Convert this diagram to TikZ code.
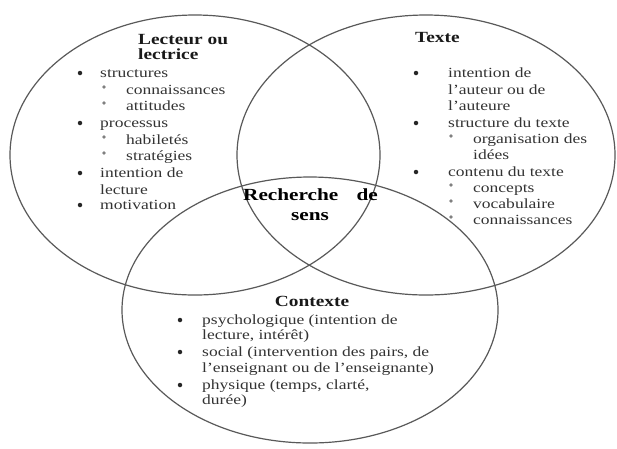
\documentclass[tikz,border=0pt]{standalone}
\usepackage{fontspec}
\setmainfont[FakeStretch=1.25]{Liberation Serif}
\begin{document}
\begin{tikzpicture}[x=1pt,y=-1pt,
  ring/.style={draw=black!65, line width=1.2pt},
  txt/.style={anchor=base west, inner sep=0pt, text=black!80, font=\fontsize{14}{16}\selectfont},
  head/.style={anchor=base west, inner sep=0pt, text=black!90, font=\fontsize{15.5}{17}\selectfont\bfseries},
  centre/.style={anchor=base, inner sep=0pt, text=black!90, font=\fontsize{15.5}{17}\selectfont\bfseries},
  big/.style={inner sep=0pt, text=black, font=\fontsize{17}{19}\selectfont\bfseries},
  dot/.style={circle, fill=black!85, inner sep=0pt, minimum size=4.5pt},
  sub/.style={circle, fill=black!50, inner sep=0pt, minimum size=3.6pt}]
\useasboundingbox (0,0) rectangle (617,448);
\fill[white] (0,0) rectangle (617,448);
% circles
\draw[ring] (195,155) ellipse [x radius=185, y radius=140];
\draw[ring] (426,155) ellipse [x radius=189, y radius=140];
\draw[ring] (310,310) ellipse [x radius=188, y radius=133];

% Lecteur ou lectrice
\node[head] (h1a) at (138,44) {Lecteur ou};
\node[head] (h1b) at (138,59) {lectrice};
\node[dot] (b1) at (80,73) {};
\node[dot] (b2) at (80,123) {};
\node[dot] (b3) at (80,173) {};
\node[dot] (b4) at (80,205) {};
\node[sub] (s1) at (104,87) {};
\node[sub] (s2) at (104,103) {};
\node[sub] (s3) at (104,137) {};
\node[sub] (s4) at (104,153) {};
\node[txt] (l1) at (100,77) {structures};
\node[txt] (l2) at (126,94) {connaissances};
\node[txt] (l3) at (126,110) {attitudes};
\node[txt] (l4) at (100,127) {processus};
\node[txt] (l5) at (126,144) {habiletés};
\node[txt] (l6) at (126,160) {stratégies};
\node[txt] (l7) at (100,177) {intention de};
\node[txt] (l8) at (100,194) {lecture};
\node[txt] (l9) at (100,209) {motivation};

% Texte
\node[head] (h2) at (415,42) {Texte};
\node[dot] (c1) at (416,73) {};
\node[dot] (c2) at (416,123) {};
\node[dot] (c3) at (416,172) {};
\node[sub] (t1) at (451,136) {};
\node[sub] (t2) at (451,185) {};
\node[sub] (t3) at (451,201) {};
\node[sub] (t4) at (451,217) {};
\node[txt] (r1) at (448,77) {intention de};
\node[txt] (r2) at (448,94) {l'auteur ou de};
\node[txt] (r3) at (448,110) {l'auteure};
\node[txt] (r4) at (448,127) {structure du texte};
\node[txt] (r5) at (473,143) {organisation des};
\node[txt] (r6) at (473,159) {idées};
\node[txt] (r7) at (448,176) {contenu du texte};
\node[txt] (r8) at (473,192) {concepts};
\node[txt] (r9) at (473,208) {vocabulaire};
\node[txt] (r10) at (473,224) {connaissances};

% Recherche de sens
\node[big, anchor=base west] (m1) at (243,200) {Recherche};
\node[big, anchor=base east] (m2) at (378,200) {de};
\node[big, anchor=base] (m3) at (310,220) {sens};

% Contexte
\node[centre] (h3) at (312,306) {Contexte};
\node[dot] (d1) at (180,320) {};
\node[dot] (d2) at (180,352) {};
\node[dot] (d3) at (180,385) {};
\node[txt] (k1) at (202,324) {psychologique (intention de};
\node[txt] (k2) at (202,339) {lecture, intérêt)};
\node[txt] (k3) at (202,356) {social (intervention des pairs, de};
\node[txt] (k4) at (202,372) {l'enseignant ou de l'enseignante)};
\node[txt] (k5) at (202,389) {physique (temps, clarté,};
\node[txt] (k6) at (202,404) {durée)};
\end{tikzpicture}
\end{document}
